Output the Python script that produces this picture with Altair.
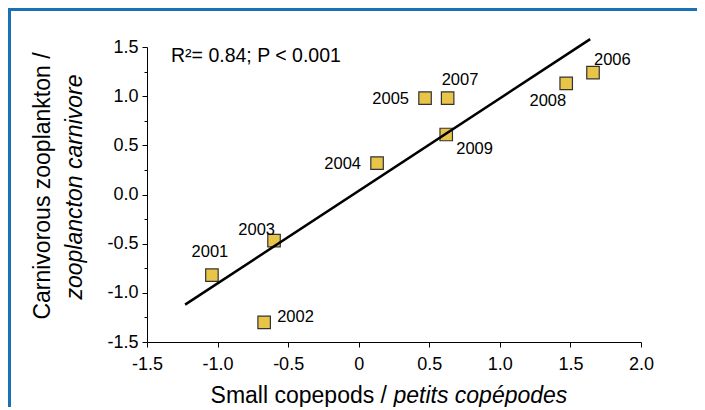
import altair as alt
import pandas as pd

# ---- data ----
years = ["2001", "2002", "2003", "2004", "2005", "2006", "2007", "2008", "2009"]
small_copepods = [-1.04, -0.67, -0.60, 0.13, 0.47, 1.66, 0.63, 1.47, 0.62]
carnivorous_zoo = [-0.82, -1.30, -0.47, 0.32, 0.98, 1.24, 0.98, 1.13, 0.61]
label_side = ["above", "right", "above_left", "left", "left",
              "above_right", "above_right_high", "below_left", "below_right"]
fit_x = [-1.23, 1.64]
fit_y = [-1.12, 1.58]
x_ticks = [-1.5, -1.0, -0.5, 0.0, 0.5, 1.0, 1.5, 2.0]
y_major = [-1.5, -1.0, -0.5, 0.0, 0.5, 1.0, 1.5]
y_minor = [-1.25, -0.75, -0.25, 0.25, 0.75, 1.25]
stats_text = ["R\u00b2= 0.84; P < 0.001"]
x_title = ["Small copepods /", "petits copépodes"]
y_title = ["Carnivorous zooplankton /", "zooplancton carnivore"]

# ---- styling ----
W, H = 494, 295
FONT = "Liberation Sans"
FILL = "#e8c448"
FRAME = "#1a72b4"
TICK_FS = 18

pts = pd.DataFrame({"x": small_copepods, "y": carnivorous_zoo,
                    "year": years, "side": label_side})
fit = pd.DataFrame({"x": fit_x, "y": fit_y})

xs = alt.Scale(domain=[-1.5, 2.0], nice=False, zero=False)
ys = alt.Scale(domain=[-1.5, 1.5], nice=False, zero=False)

x_axis = alt.Axis(values=x_ticks,
                  labelExpr="datum.value == 0 ? '0' : replace(format(datum.value, '.1f'), '\u2212', '-')",
                  title=None, grid=False, tickSize=5, tickWidth=1, domainWidth=1,
                  domainColor="black", tickColor="black", labelColor="black",
                  labelFont=FONT, labelFontSize=TICK_FS, labelPadding=8,
                  labelFlush=False, labelOverlap=False, orient="bottom")
y_axis = alt.Axis(values=y_major,
                  labelExpr="replace(format(datum.value, '.1f'), '\u2212', '-')",
                  title=None, grid=False,
                  tickSize=5, tickWidth=1, domainWidth=1,
                  domainColor="black", tickColor="black", labelColor="black",
                  labelFont=FONT, labelFontSize=TICK_FS, labelPadding=4,
                  labelFlush=False, labelOverlap=False, orient="left")
y_minor_axis = alt.Axis(values=y_minor, labels=False, domain=False, title=None,
                        grid=False, tickSize=3, tickWidth=1, tickColor="black",
                        orient="left")

X = alt.X("x:Q", scale=xs, axis=x_axis)
Y_plain = alt.Y("y:Q", scale=ys, axis=None)

frame = alt.Chart(pd.DataFrame({"a": [0]})).mark_rect(
    fillOpacity=0, stroke=FRAME, strokeWidth=3
).encode(x=alt.value(-137.5), x2=alt.value(W + 300),
         y=alt.value(-37.5), y2=alt.value(H + 300))

squares = alt.Chart(pts).mark_square(
    size=156, fill=FILL, stroke="#333333", strokeWidth=1.2, opacity=1
).encode(x=X, y=alt.Y("y:Q", scale=ys, axis=y_axis))

minor = alt.Chart(pts).mark_point(opacity=0).encode(
    x=X, y=alt.Y("y:Q", scale=ys, axis=y_minor_axis))

line = alt.Chart(fit).mark_line(color="black", strokeWidth=2.5).encode(
    x=X, y=Y_plain)

placements = {
    "above": ("center", -2, -18),
    "right": ("left", 13, 0),
    "above_left": ("right", 1, -6),
    "left": ("right", -16, 6),
    "above_right": ("left", 1, -8),
    "above_right_high": ("left", -6, -13),
    "below_left": ("right", 0, 23),
    "below_right": ("left", 10, 19),
}
label_layers = []
for side, (al, dx, dy) in placements.items():
    label_layers.append(
        alt.Chart(pts).transform_filter(alt.datum.side == side).mark_text(
            align=al, baseline="alphabetic", dx=dx, dy=dy,
            font=FONT, fontSize=16.5, color="black"
        ).encode(x=X, y=Y_plain, text="year:N"))

stats = alt.Chart(pd.DataFrame({"t": stats_text})).mark_text(
    align="left", baseline="alphabetic", font=FONT, fontSize=19.5, color="black"
).encode(x=alt.value(24), y=alt.value(15), text="t:N")

XT = 23
YT = 23
TY = 356
SPLIT = 240
xt_reg = alt.Chart(pd.DataFrame({"t": [x_title[0]]})).mark_text(
    align="right", baseline="alphabetic", font=FONT, fontSize=XT, color="black"
).encode(x=alt.value(SPLIT), y=alt.value(TY), text="t:N")
xt_it = alt.Chart(pd.DataFrame({"t": [x_title[1]]})).mark_text(
    align="left", baseline="alphabetic", font=FONT, fontSize=XT,
    fontStyle="italic", color="black"
).encode(x=alt.value(SPLIT + 0.28 * XT), y=alt.value(TY), text="t:N")

yt1 = alt.Chart(pd.DataFrame({"t": [y_title[0]]})).mark_text(
    align="center", baseline="alphabetic", angle=270, font=FONT, fontSize=YT,
    color="black"
).encode(x=alt.value(-97), y=alt.value(139), text="t:N")
yt2 = alt.Chart(pd.DataFrame({"t": [y_title[1]]})).mark_text(
    align="center", baseline="alphabetic", angle=270, font=FONT, fontSize=YT,
    fontStyle="italic", color="black"
).encode(x=alt.value(-65), y=alt.value(140), text="t:N")

chart = alt.layer(
    frame, squares, minor, line, *label_layers, stats, xt_reg, xt_it, yt1, yt2
).resolve_axis(y="independent").resolve_scale(x="shared", y="shared").properties(
    width=W, height=H,
    padding={"left": 139, "top": 39, "right": 56, "bottom": 65},
    autosize=alt.AutoSizeParams(type="none"),
    background="white",
).configure_view(stroke="transparent")

chart.save("out.html", embed_options={"renderer": "svg", "actions": False})
